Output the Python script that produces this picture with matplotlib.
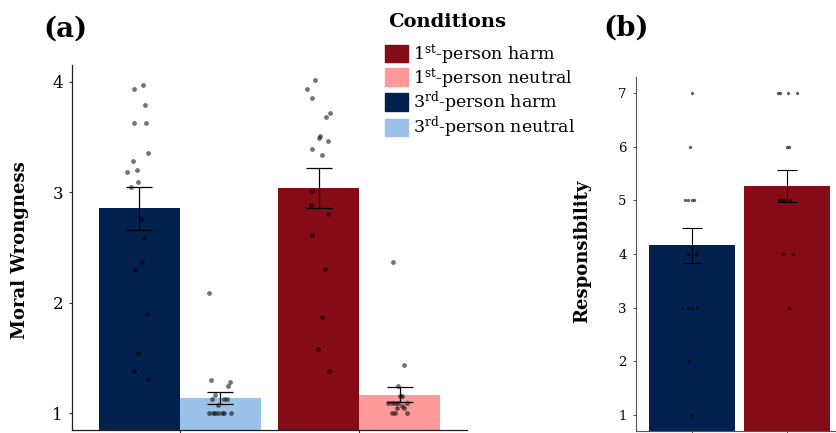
import numpy as np
import matplotlib
matplotlib.use("Agg")
import matplotlib.pyplot as plt
from matplotlib.patches import Patch

plt.rcParams.update({'font.family': 'DejaVu Serif', 'mathtext.fontset': 'dejavuserif'})
NAVY, LBLUE, DRED, PINK = '#02214f', '#9bc2e8', '#850b17', '#fe9a9a'

# panel (a): moral wrongness, bar means and standard errors
cond_a = ['3rd-person harm', '3rd-person neutral', '1st-person harm', '1st-person neutral']
mean_a = [2.855, 1.14, 3.04, 1.17]
se_a = [0.195, 0.055, 0.18, 0.07]

# individual participant points (value, horizontal jitter in px)
pts_3h = [3.97, 3.93, 3.79, 3.63, 3.63, 3.35, 3.28, 3.20, 3.18, 3.09, 3.05, 2.76, 2.59, 2.37, 2.30, 1.90, 1.55, 1.38, 1.31]
jit_3h = [3.3, -5, 6, -5.3, 7, 9, -6.7, -2, -12.3, -1.3, -8, 1.3, 4.3, 2.7, -4.3, 7.7, -1, -5, 8.7]
pts_3n = [2.09, 1.30, 1.28, 1.25, 1.17, 1.13, 1.13, 1.13, 1.08, 1.0, 1.0, 1.0, 1.0, 1.0, 1.0, 1.0]
jit_3n = [-11, -9, 10, 7.7, -5, -8, 4, 7, -2, -11, -7.3, -5, -1.7, 1.7, 3.7, 11]
pts_1h = [4.01, 3.93, 3.85, 3.72, 3.68, 3.51, 3.49, 3.46, 3.39, 3.34, 3.01, 2.88, 2.80, 2.61, 2.31, 1.87, 1.58, 1.38]
jit_1h = [-4.3, -11.7, -6.7, 11, 7, 1.3, -0.3, 8.7, -7.3, 2.7, -7.3, -8, 9.3, -7.3, 6.3, 3.3, -0.7, 9.7]
pts_1n = [2.37, 1.44, 1.25, 1.16, 1.16, 1.09, 1.09, 1.09, 1.09, 1.07, 1.09, 1.045, 1.045, 1.0, 1.0, 1.0]
jit_1n = [-6.8, 4.2, -1.8, 0.5, 2.2, -11.2, -7.8, -4.5, -1.2, 2.2, 7.2, -2.2, 4.8, -7.8, -4.5, 7.2]

# panel (b): responsibility
cond_b = ['3rd-person harm', '1st-person harm']
mean_b = [4.16, 5.27]
se_b = [0.33, 0.30]
pts_b3 = [7, 6, 5, 5, 5, 5, 4, 4, 3, 3, 3, 3, 2, 1]
jit_b3 = [0.8, -1.2, -6.5, -3.2, 0.2, 2.8, -3.8, 4.5, -9.8, -3.2, 0.8, 5.2, -2.2, -0.5]
pts_b1 = [7, 7, 7, 7, 6, 6, 5, 5, 5, 5, 4, 4, 3]
jit_b1 = [-9.7, -7, 0.3, 9.7, -0.3, 1.7, -8.7, -5.3, -2, 3, -4.3, 5.7, 1.7]

fig = plt.figure(figsize=(8.37, 4.33), dpi=100)
W, H = 837, 433

# ---- panel (a)
ax = fig.add_axes([72 / W, 3 / H, 395 / W, 365 / H])
xs_a = [1 - 0.225, 1 + 0.225, 2 - 0.225, 2 + 0.225]
cols_a = [NAVY, LBLUE, DRED, PINK]
ax.bar(xs_a, mean_a, width=0.45, color=cols_a, zorder=1)
ax.errorbar(xs_a, mean_a, yerr=se_a, fmt='none', ecolor='black', elinewidth=0.9,
            capsize=9.5, capthick=0.9, zorder=3)
ppu_a = 179.0  # px per x unit
for xc, p, j in zip(xs_a, [pts_3h, pts_3n, pts_1h, pts_1n], [jit_3h, jit_3n, jit_1h, jit_1n]):
    ax.scatter(xc + np.array(j) / ppu_a, p, s=12, color='black', alpha=0.55, lw=0, zorder=4)
ax.set_xlim(0.4, 2.6)
ax.set_ylim(0.85, 4.15)
ax.set_yticks([1, 2, 3, 4])
ax.set_xticks([1, 2]); ax.set_xticklabels(['', ''])
ax.tick_params(axis='y', labelsize=12, length=2.5, width=0.8, pad=4, color='#333')
ax.tick_params(axis='x', length=2.5, width=0.8, color='#333')
ax.spines[['top', 'right']].set_visible(False)
ax.spines[['left', 'bottom']].set_color('#222')
ax.spines[['left', 'bottom']].set_linewidth(0.9)
fig.text(20 / W, 1 - 250 / H, 'Moral Wrongness', rotation=90, fontsize=13,
         fontweight='bold', ha='center', va='center')
fig.text(65 / W, 1 - 29 / H, '(a)', fontsize=20, fontweight='bold', ha='center', va='center')

# ---- panel (b)
bx = fig.add_axes([635.7 / W, 2 / H, (W - 635.7) / W, 354 / H])
xs_b = [1, 2]
bx.bar(xs_b, mean_b, width=0.9, color=[NAVY, DRED], zorder=1)
bx.errorbar(xs_b, mean_b, yerr=se_b, fmt='none', ecolor='black', elinewidth=0.8,
            capsize=7.5, capthick=0.8, zorder=3)
ppu_b = 95.5
for xc, p, j in zip(xs_b, [pts_b3, pts_b1], [jit_b3, jit_b1]):
    bx.scatter(xc + np.array(j) / ppu_b, p, s=6, color='black', alpha=0.6, lw=0, zorder=4)
bx.set_xlim(0.416, 2.52)
bx.set_ylim(0.7, 7.3)
bx.set_yticks(range(1, 8))
bx.set_xticks([1, 2]); bx.set_xticklabels(['', ''])
bx.tick_params(axis='y', labelsize=9.5, length=2.5, width=0.7, pad=4, color='#555')
bx.tick_params(axis='x', length=2.5, width=0.7, color='#555')
bx.spines[['top', 'right']].set_visible(False)
bx.spines[['left', 'bottom']].set_color('#555')
bx.spines[['left', 'bottom']].set_linewidth(0.8)
fig.text(582 / W, 1 - 251 / H, 'Responsibility', rotation=90, fontsize=13,
         fontweight='bold', ha='center', va='center')
fig.text(626 / W, 1 - 28 / H, '(b)', fontsize=20, fontweight='bold', ha='center', va='center')

# ---- legend
labels = [r'1$^{\mathrm{st}}$-person harm', r'1$^{\mathrm{st}}$-person neutral',
          r'3$^{\mathrm{rd}}$-person harm', r'3$^{\mathrm{rd}}$-person neutral']
handles = [Patch(color=c) for c in [DRED, PINK, NAVY, LBLUE]]
fig.text(388 / W, 1 - 22 / H, 'Conditions', fontsize=14, fontweight='bold',
         ha='left', va='center')
fig.legend(handles, labels, loc='upper left',
           bbox_to_anchor=(385 / W, 1 - 42 / H), frameon=False, fontsize=12.5,
           borderpad=0, borderaxespad=0, handlelength=1.3, handleheight=1.2,
           handletextpad=0.3, labelspacing=0.0)

fig.savefig('out.png', dpi=100, facecolor='white')
